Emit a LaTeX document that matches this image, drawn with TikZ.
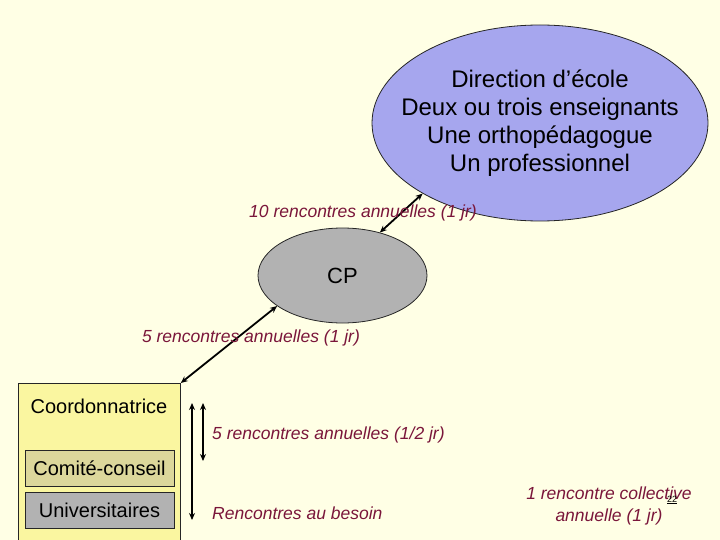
\documentclass[tikz,border=0pt]{standalone}
\usepackage{fontspec}
\setmainfont{Liberation Sans}
\usetikzlibrary{shapes.geometric,arrows.meta}
\definecolor{bgcol}{RGB}{255,255,229}
\definecolor{lav}{RGB}{166,166,238}
\definecolor{cpgray}{RGB}{178,178,178}
\definecolor{yel}{RGB}{250,246,160}
\definecolor{khaki}{RGB}{220,215,155}
\definecolor{lblred}{RGB}{122,22,58}
\tikzset{
  ell/.style={ellipse,draw=black!85,line width=0.8pt,inner sep=0pt},
  boxlbl/.style={font=\fontsize{20}{24}\selectfont,text=black},
  meet/.style={font=\fontsize{17.5}{22}\selectfont\itshape,text=lblred},
  twoway/.style={{Stealth[length=7pt,width=6pt]}-{Stealth[length=7pt,width=6pt]},line width=1.8pt,black},
}
\begin{document}
\begin{tikzpicture}[x=1pt,y=-1pt]
\useasboundingbox (0,0) rectangle (720,540);
\clip (0,0) rectangle (720,540);
\fill[bgcol] (0,0) rectangle (720,540);
% big ellipse
\node[ell,fill=lav,minimum width=336pt,minimum height=196pt] (big) at (540,123) {};
\node[align=center,font=\fontsize{24}{28}\selectfont] (bigtxt) at (540,123) {Direction d’école\\Deux ou trois enseignants\\Une orthopédagogue\\Un professionnel};
% CP ellipse
\node[ell,fill=cpgray,minimum width=169pt,minimum height=95pt,font=\fontsize{22}{26}\selectfont] (cp) at (342.5,275.5) {CP};
% left structure
\node[draw=black!85,line width=0.8pt,fill=yel,anchor=north west,minimum width=162pt,minimum height=180pt,inner sep=0pt] (rect) at (18,383) {};
\node[boxlbl] (coord) at (99,406) {Coordonnatrice};
\node[draw=black!85,line width=0.6pt,fill=khaki,minimum width=149pt,minimum height=36pt,inner sep=0pt,boxlbl] (comite) at (99.5,468) {Comité-conseil};
\node[draw=black!85,line width=0.6pt,fill=cpgray,minimum width=149pt,minimum height=36pt,inner sep=0pt,boxlbl] (univ) at (99.5,510) {Universitaires};
% connectors
\draw[twoway] (cp.49.8) -- (big.211.3);
\draw[twoway] (cp.205) -- (rect.north east);
\coordinate (la) at (192,403);
\coordinate (lb) at (192,520);
\coordinate (sa) at (203,403);
\coordinate (sb) at (203,461);
\draw[twoway] (la) -- (lb);
\draw[twoway] (sa) -- (sb);
% labels
\node[meet] (l10) at (363,213) {10 rencontres annuelles (1 jr)};
\node[meet] (l5) at (251,338) {5 rencontres annuelles (1 jr)};
\node[meet,anchor=west,inner sep=0pt] (l5b) at (212,435) {5 rencontres annuelles (1/2 jr)};
\node[meet,anchor=west,inner sep=0pt] (lbes) at (212,513) {Rencontres au besoin};
\node[meet,align=center] (lcoll) at (609,506) {1 rencontre collective\\annuelle (1 jr)};
\node[font=\fontsize{9}{10}\selectfont,inner sep=0pt] (num) at (672,500) {\underline{22}};
\end{tikzpicture}
\end{document}
